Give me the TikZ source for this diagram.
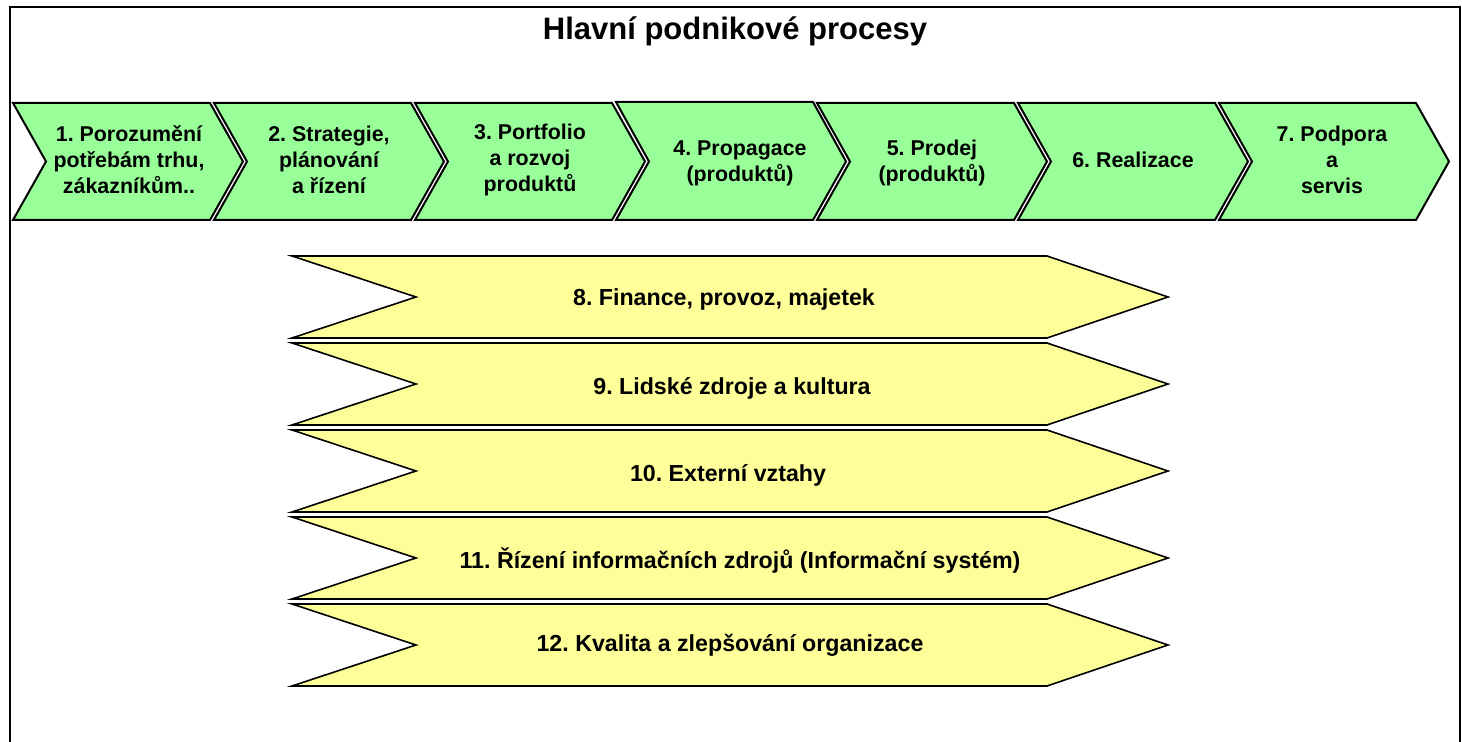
\documentclass[tikz,border=0pt]{standalone}
\usepackage{fontspec}
\setmainfont{Liberation Sans}
\definecolor{procgreen}{RGB}{153,255,153}
\definecolor{suppyellow}{RGB}{255,255,153}
\frenchspacing
\begin{document}
\begin{tikzpicture}[
		x=0.5pt, y=-0.5pt,
		proc/.style={draw=black, line width=1pt, fill=procgreen, line join=miter},
		supp/.style={draw=black, line width=0.8pt, fill=suppyellow, line join=miter},
		proctext/.style={align=center, inner sep=0pt, font=\bfseries\fontsize{10.7}{13}\selectfont},
		supptext/.style={inner sep=0pt, font=\bfseries\fontsize{11.6}{13}\selectfont},
		]
		\useasboundingbox (0,0) rectangle (1462,742);
		\draw[line width=1pt] (10,742) -- (10,7) -- (1460,7) -- (1460,742);
		\node[font=\bfseries\fontsize{15.5}{18}\selectfont] (title) at (735,31) {Hlavní podnikové procesy};
		% main processes
		\draw[proc] (13,103) -- ++(197,0) -- ++(33,58.5) -- ++(-33,58.5) -- ++(-197,0) -- ++(33,-58.5) -- cycle;
		\draw[proc] (214,103) -- ++(197,0) -- ++(33,58.5) -- ++(-33,58.5) -- ++(-197,0) -- ++(33,-58.5) -- cycle;
		\draw[proc] (415,103) -- ++(197,0) -- ++(33,58.5) -- ++(-33,58.5) -- ++(-197,0) -- ++(33,-58.5) -- cycle;
		\draw[proc] (616,102) -- ++(197,0) -- ++(33,59.5) -- ++(-33,58.5) -- ++(-197,0) -- ++(33,-58.5) -- cycle;
		\draw[proc] (817,103) -- ++(197,0) -- ++(33,58.5) -- ++(-33,58.5) -- ++(-197,0) -- ++(33,-58.5) -- cycle;
		\draw[proc] (1018,103) -- ++(197,0) -- ++(33,58.5) -- ++(-33,58.5) -- ++(-197,0) -- ++(33,-58.5) -- cycle;
		\draw[proc] (1219,103) -- ++(197,0) -- ++(33,58.5) -- ++(-33,58.5) -- ++(-197,0) -- ++(33,-58.5) -- cycle;
		\node[proctext] (p1) at (129,160) {1. Porozumění\\potřebám trhu,\\zákazníkům..};
		\node[proctext] (p2) at (329,160) {2. Strategie,\\plánování\\a řízení};
		\node[proctext] (p3) at (530,160) {3. Portfolio\\a rozvoj\\produktů};
		\node[proctext] (p4) at (740,163) {4. Propagace\\(produktů)};
		\node[proctext] (p5) at (932,163) {5. Prodej\\(produktů)};
		\node[proctext] (p6) at (1133,160) {6. Realizace};
		\node[proctext] (p7) at (1332,160) {7. Podpora\\a\\servis};
		% supporting processes
		\draw[supp] (292,256) -- ++(755,0) -- ++(121,41) -- ++(-121,41) -- ++(-755,0) -- ++(124,-41) -- cycle;
		\draw[supp] (292,343) -- ++(755,0) -- ++(121,41) -- ++(-121,41) -- ++(-755,0) -- ++(124,-41) -- cycle;
		\draw[supp] (292,430) -- ++(755,0) -- ++(121,41) -- ++(-121,41) -- ++(-755,0) -- ++(124,-41) -- cycle;
		\draw[supp] (292,517) -- ++(755,0) -- ++(121,41) -- ++(-121,41) -- ++(-755,0) -- ++(124,-41) -- cycle;
		\draw[supp] (292,604) -- ++(755,0) -- ++(121,41) -- ++(-121,41) -- ++(-755,0) -- ++(124,-41) -- cycle;
		\node[supptext] (s8) at (724,300) {8. Finance, provoz, majetek};
		\node[supptext] (s9) at (732,388) {9. Lidské zdroje a kultura};
		\node[supptext] (s10) at (728,475) {10. Externí vztahy};
		\node[supptext] (s11) at (740,561) {11. Řízení informačních zdrojů (Informační systém)};
		\node[supptext] (s12) at (730,645) {12. Kvalita a zlepšování organizace};
	\end{tikzpicture}
\end{document}
